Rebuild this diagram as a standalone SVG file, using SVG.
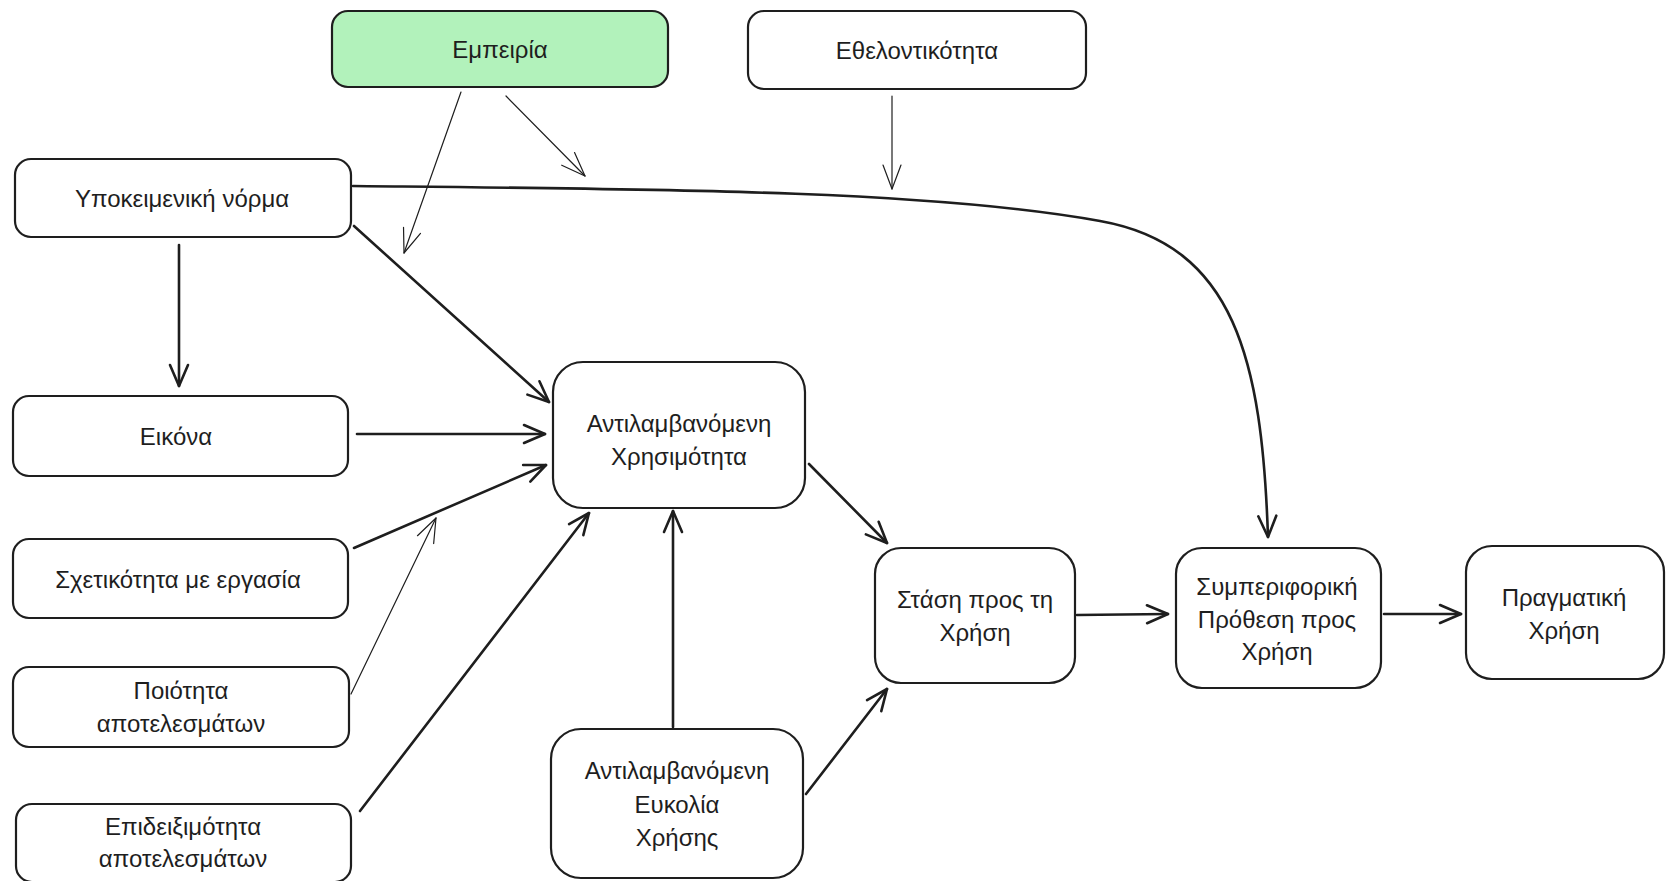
<svg xmlns="http://www.w3.org/2000/svg" width="1669" height="881" viewBox="0 0 1669 881">
<style>
.box{fill:#ffffff;stroke:#1e1e1e;stroke-width:2.2}
.green{fill:#b2f2bb}
.t{font-family:"Liberation Sans","DejaVu Sans",sans-serif;font-size:24px;fill:#1e1e1e;text-anchor:middle;dominant-baseline:central}
.c{fill:none;stroke:#1e1e1e;stroke-width:2.6;stroke-linecap:round}
.thin{fill:none;stroke:#1e1e1e;stroke-width:1.2;stroke-linecap:round}
</style>
<defs>
<marker id="ah" markerUnits="userSpaceOnUse" viewBox="-24 -12 28 24" refX="0" refY="0" markerWidth="28" markerHeight="24" orient="auto" overflow="visible">
<path d="M-21,-9 L0,0 L-21,9" fill="none" stroke="#1e1e1e" stroke-width="2.6" stroke-linecap="round" stroke-linejoin="round"/>
</marker>
<marker id="ahThin" markerUnits="userSpaceOnUse" viewBox="-24 -12 28 24" refX="0" refY="0" markerWidth="28" markerHeight="24" orient="auto" overflow="visible">
<path d="M-24,-9 L0,0 L-24,9" fill="none" stroke="#1e1e1e" stroke-width="1.2" stroke-linecap="round" stroke-linejoin="round"/>
</marker>
</defs>
<rect width="1669" height="881" fill="#ffffff"/>
<g id="connectors">
<path class="thin" d="M461,92 L404,253" marker-end="url(#ahThin)"/>
<path class="thin" d="M506,96 L585,176" marker-end="url(#ahThin)"/>
<path class="thin" d="M892,96 L892,189" marker-end="url(#ahThin)"/>
<path class="c" d="M353,186 C650,189 930,190 1100,221 C1235,245 1262,360 1268,537" marker-end="url(#ah)"/>
<path class="c" d="M179,245 L179,386" marker-end="url(#ah)"/>
<path class="c" d="M354,226 L549,402" marker-end="url(#ah)"/>
<path class="c" d="M357,434 L545,434" marker-end="url(#ah)"/>
<path class="c" d="M354,548 L546,465" marker-end="url(#ah)"/>
<path class="thin" d="M351,694 L436,518" marker-end="url(#ahThin)"/>
<path class="c" d="M360,811 L589,513" marker-end="url(#ah)"/>
<path class="c" d="M673,727 L673,511" marker-end="url(#ah)"/>
<path class="c" d="M809,464 L887,543" marker-end="url(#ah)"/>
<path class="c" d="M806,794 L887,689" marker-end="url(#ah)"/>
<path class="c" d="M1077,615 L1168,614" marker-end="url(#ah)"/>
<path class="c" d="M1384,614 L1461,614" marker-end="url(#ah)"/>
</g>
<g id="n-empeiria">
<rect class="box green" x="332" y="11" width="336" height="76" rx="16"/>
<text class="t" x="500" y="49">Εμπειρία</text>
</g>
<g id="n-ethelontikotita">
<rect class="box" x="748" y="11" width="338" height="78" rx="16"/>
<text class="t" x="917" y="50">Εθελοντικότητα</text>
</g>
<g id="n-ypokeimeniki">
<rect class="box" x="15" y="159" width="336" height="78" rx="16"/>
<text class="t" x="182" y="198">Υποκειμενική νόρμα</text>
</g>
<g id="n-eikona">
<rect class="box" x="13" y="396" width="335" height="80" rx="16"/>
<text class="t" x="176" y="436">Εικόνα</text>
</g>
<g id="n-sxetikotita">
<rect class="box" x="13" y="539" width="335" height="79" rx="16"/>
<text class="t" x="178" y="579">Σχετικότητα με εργασία</text>
</g>
<g id="n-poiotita">
<rect class="box" x="13" y="667" width="336" height="80" rx="16"/>
<text class="t" x="181" y="690">Ποιότητα</text>
<text class="t" x="181" y="723">αποτελεσμάτων</text>
</g>
<g id="n-epideiximotita">
<rect class="box" x="16" y="804" width="335" height="78" rx="16"/>
<text class="t" x="183" y="826">Επιδειξιμότητα</text>
<text class="t" x="183" y="858">αποτελεσμάτων</text>
</g>
<g id="n-xrisimotita">
<rect class="box" x="553" y="362" width="252" height="146" rx="30"/>
<text class="t" x="679" y="423">Αντιλαμβανόμενη</text>
<text class="t" x="679" y="456">Χρησιμότητα</text>
</g>
<g id="n-eukolia">
<rect class="box" x="551" y="729" width="252" height="149" rx="30"/>
<text class="t" x="677" y="770">Αντιλαμβανόμενη</text>
<text class="t" x="677" y="804">Ευκολία</text>
<text class="t" x="677" y="837">Χρήσης</text>
</g>
<g id="n-stasi">
<rect class="box" x="875" y="548" width="200" height="135" rx="26"/>
<text class="t" x="975" y="599">Στάση προς τη</text>
<text class="t" x="975" y="632">Χρήση</text>
</g>
<g id="n-prothesi">
<rect class="box" x="1176" y="548" width="205" height="140" rx="26"/>
<text class="t" x="1277" y="586">Συμπεριφορική</text>
<text class="t" x="1277" y="619">Πρόθεση προς</text>
<text class="t" x="1277" y="651">Χρήση</text>
</g>
<g id="n-pragmatiki">
<rect class="box" x="1466" y="546" width="198" height="133" rx="26"/>
<text class="t" x="1564" y="597">Πραγματική</text>
<text class="t" x="1564" y="630">Χρήση</text>
</g>
</svg>
